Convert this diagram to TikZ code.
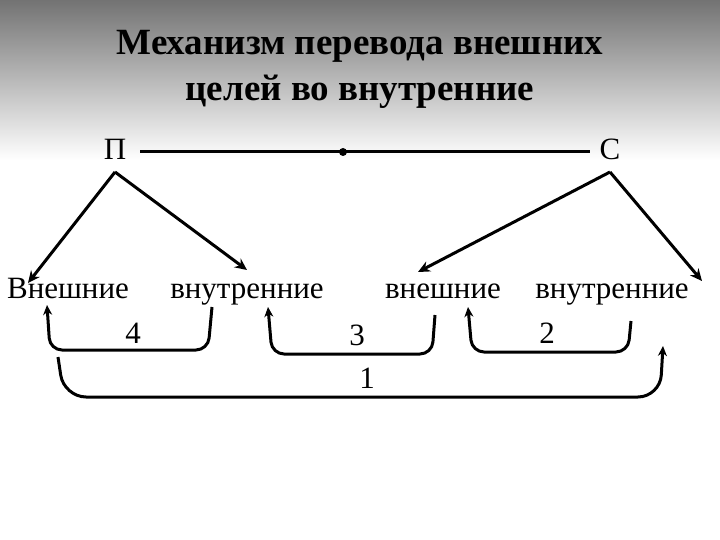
\documentclass[tikz,border=0pt]{standalone}
\usepackage{fontspec}
\setmainfont{Liberation Serif}
\usetikzlibrary{arrows.meta}
\begin{document}
\begin{tikzpicture}[x=1pt,y=-1pt,
  word/.style={font=\fontsize{31}{34}\selectfont,anchor=base,inner sep=0pt},
  lbl/.style={font=\fontsize{31}{34}\selectfont},
  arr/.style={line width=3pt,-{Stealth[length=12pt,width=11pt]}},
  brk/.style={line width=3pt,rounded corners=12pt}]
\useasboundingbox (0,0) rectangle (720,540);
\shade[top color=black!55,bottom color=white] (0,0) rectangle (720,160);
\fill[white] (0,160) rectangle (720,540);
\node (title)[font=\bfseries\fontsize{37}{46}\selectfont,align=center] at (360,69) {Механизм перевода внешних\\целей во внутренние};
\node (P)[word] at (115,160) {П};
\node (C)[word] at (610,160) {С};
\draw[line width=3pt] (140,152) coordinate (l1) -- (590,152) coordinate (l2);
\fill (343,152) circle (4pt);
\node (w1)[word] at (68,298) {Внешние};
\node (w2)[word] at (247,298) {внутренние};
\node (w3)[word] at (443,298) {внешние};
\node (w4)[word] at (612,298) {внутренние};
\coordinate (ps) at (115,172); \coordinate (cs) at (610,172);
\draw[arr] (ps) -- (28,283);
\draw[arr] (ps) -- (247,270);
\draw[arr] (cs) -- (418,272);
\draw[arr] (cs) -- (702,281);
\draw[brk,{Stealth[length=10pt,width=9pt]}-] (47,305) -- (50,350) -- (208,350) -- (212,307);
\node (n4)[lbl] at (133,333) {4};
\draw[brk,{Stealth[length=10pt,width=9pt]}-] (268,307) -- (272,354) -- (432,354) -- (435,315);
\node (n3)[lbl] at (357,335) {3};
\draw[brk,{Stealth[length=10pt,width=9pt]}-] (468,307) -- (472,352) -- (628,352) -- (631,321);
\node (n2)[lbl] at (547,333) {2};
\draw[brk,rounded corners=22pt,-{Stealth[length=10pt,width=9pt]}] (58,357) -- (64,397) -- (660,397) -- (663,346);
\node (n1)[lbl] at (367,378) {1};
\end{tikzpicture}
\end{document}
